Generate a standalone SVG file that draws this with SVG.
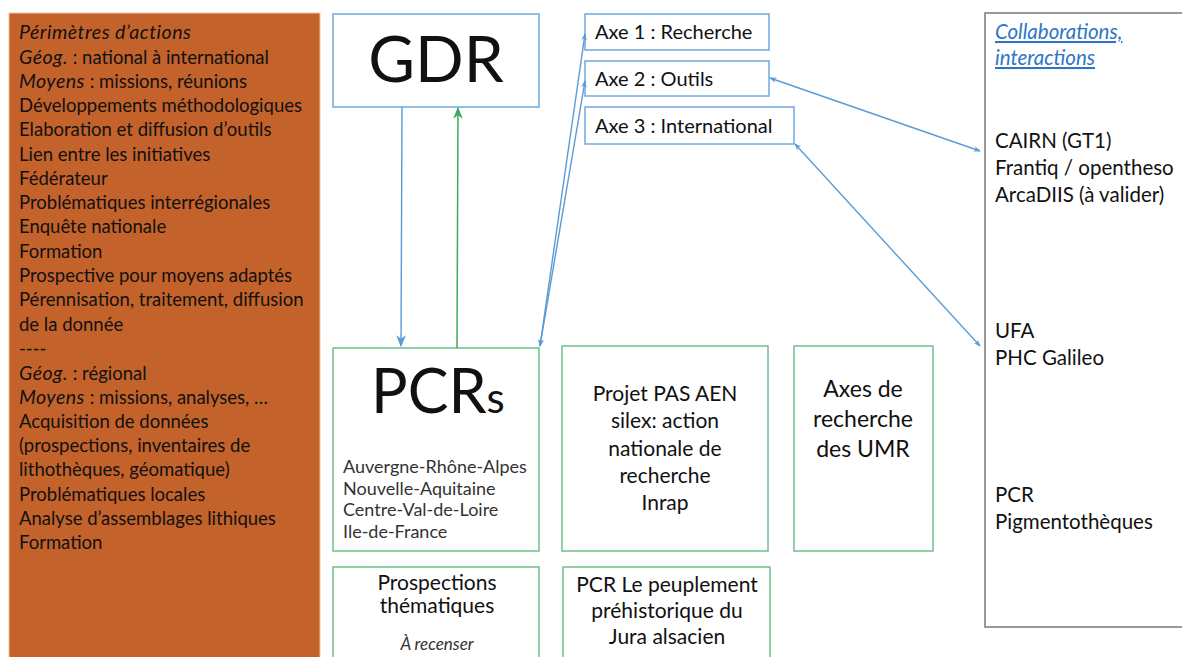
<svg xmlns="http://www.w3.org/2000/svg" width="1182" height="657" viewBox="0 0 1182 657">
<defs>
<style>
text{font-family:Lato,"Open Sans","Liberation Sans",sans-serif;fill:#111}
.lp{font-size:18.5px}
.it{font-style:italic}
.lp .it{font-size:19.5px;letter-spacing:0.5px}
.bbox{fill:#fff;stroke:#6FA8DC;stroke-width:1.5}
.gbox{fill:#fff;stroke:#6CC08B;stroke-width:1.5}
.axe{font-size:20px}
.mid{text-anchor:middle}
.big{font-size:21px}
.umr{font-size:23px}
.reg{font-size:18px;fill:#333}
.rp{font-size:20.5px}
.bl{stroke:#5B9BD5;stroke-width:1.4;fill:none}
.gr{stroke:#3DAA5C;stroke-width:1.5;fill:none}
</style>
<marker id="ab" viewBox="0 0 10 10" refX="9" refY="5" markerWidth="7" markerHeight="7" orient="auto-start-reverse" markerUnits="userSpaceOnUse">
<path d="M0,1 L10,5 L0,9 L3,5 z" fill="#5B9BD5"/>
</marker>
<marker id="ag" viewBox="0 0 10 10" refX="9" refY="5" markerWidth="12" markerHeight="12" orient="auto-start-reverse" markerUnits="userSpaceOnUse">
<path d="M0,1 L10,5 L0,9 L3,5 z" fill="#3DAA5C"/>
</marker>
<marker id="abig" viewBox="0 0 10 10" refX="9" refY="5" markerWidth="12" markerHeight="12" orient="auto-start-reverse" markerUnits="userSpaceOnUse">
<path d="M0,1 L10,5 L0,9 L3,5 z" fill="#5B9BD5"/>
</marker>
</defs>
<rect width="1182" height="657" fill="#fff"/>

<g id="perimetres">
<rect x="9" y="13" width="311" height="650" fill="#C4622B" stroke="#F2C4A6" stroke-width="1"/>
<text class="lp" x="19" y="39"><tspan class="it">Périmètres d’actions</tspan></text>
<text class="lp" x="19" y="64"><tspan class="it">Géog.</tspan> : national à international</text>
<text class="lp" x="19" y="88"><tspan class="it">Moyens</tspan> : missions, réunions</text>
<text class="lp" x="19" y="112">Développements méthodologiques</text>
<text class="lp" x="19" y="136">Elaboration et diffusion d’outils</text>
<text class="lp" x="19" y="161">Lien entre les initiatives</text>
<text class="lp" x="19" y="185">Fédérateur</text>
<text class="lp" x="19" y="209">Problématiques interrégionales</text>
<text class="lp" x="19" y="233">Enquête nationale</text>
<text class="lp" x="19" y="258">Formation</text>
<text class="lp" x="19" y="282">Prospective pour moyens adaptés</text>
<text class="lp" x="19" y="306">Pérennisation, traitement, diffusion</text>
<text class="lp" x="19" y="331">de la donnée</text>
<text class="lp" x="19" y="355">----</text>
<text class="lp" x="19" y="380"><tspan class="it">Géog.</tspan> : régional</text>
<text class="lp" x="19" y="404"><tspan class="it">Moyens</tspan> : missions, analyses, …</text>
<text class="lp" x="19" y="428">Acquisition de données</text>
<text class="lp" x="19" y="452">(prospections, inventaires de</text>
<text class="lp" x="19" y="476">lithothèques, géomatique)</text>
<text class="lp" x="19" y="501">Problématiques locales</text>
<text class="lp" x="19" y="525">Analyse d’assemblages lithiques</text>
<text class="lp" x="19" y="549">Formation</text>
</g>

<g id="gdr">
<rect class="bbox" x="333" y="14" width="206" height="93"/>
<text class="mid" x="436" y="82" font-size="64">GDR</text>
</g>

<g id="axe1">
<rect class="bbox" x="585" y="14" width="184" height="36"/>
<text class="axe" x="595" y="39">Axe 1 : Recherche</text>
</g>
<g id="axe2">
<rect class="bbox" x="585" y="61" width="184" height="35"/>
<text class="axe" x="595" y="86">Axe 2 : Outils</text>
</g>
<g id="axe3">
<rect class="bbox" x="585" y="107" width="209" height="37"/>
<text class="axe" x="595" y="133">Axe 3 : International</text>
</g>

<g id="pcrs">
<rect class="gbox" x="333" y="348" width="206" height="203"/>
<text x="371" y="413" font-size="61">PCR<tspan font-size="42">s</tspan></text>
<text class="reg" x="343" y="473">Auvergne-Rhône-Alpes</text>
<text class="reg" x="343" y="495">Nouvelle-Aquitaine</text>
<text class="reg" x="343" y="516">Centre-Val-de-Loire</text>
<text class="reg" x="343" y="538">Ile-de-France</text>
</g>

<g id="pas">
<rect class="gbox" x="562" y="346" width="206" height="205"/>
<text class="mid big" x="665" y="401">Projet PAS AEN</text>
<text class="mid big" x="665" y="428">silex: action</text>
<text class="mid big" x="665" y="456">nationale de</text>
<text class="mid big" x="665" y="483">recherche</text>
<text class="mid big" x="665" y="510">Inrap</text>
</g>

<g id="umr">
<rect class="gbox" x="794" y="346" width="139" height="205"/>
<text class="mid umr" x="863" y="397">Axes de</text>
<text class="mid umr" x="863" y="427">recherche</text>
<text class="mid umr" x="863" y="457">des UMR</text>
</g>

<g id="prospections">
<rect class="gbox" x="333" y="567" width="206" height="100"/>
<text class="mid big" x="437" y="590">Prospections</text>
<text class="mid big" x="437" y="613">thématiques</text>
<text class="mid it" x="437" y="650" font-size="17" style="fill:#333">À recenser</text>
</g>

<g id="jura">
<rect class="gbox" x="563" y="567" width="207" height="100"/>
<text class="mid big" x="667" y="592">PCR Le peuplement</text>
<text class="mid big" x="667" y="618">préhistorique du</text>
<text class="mid big" x="667" y="644">Jura alsacien</text>
</g>

<g id="collaborations">
<rect x="985" y="13" width="220" height="614" fill="#fff" stroke="#808080" stroke-width="1.6"/>
<text class="it" x="995" y="39" font-size="20.5" style="fill:#2E75C6" text-decoration="underline">Collaborations,</text>
<text class="it" x="995" y="65" font-size="20.5" style="fill:#2E75C6" text-decoration="underline">interactions</text>
<text class="rp" x="995" y="148">CAIRN (GT1)</text>
<text class="rp" x="995" y="175">Frantiq / opentheso</text>
<text class="rp" x="995" y="202">ArcaDIIS (à valider)</text>
<text class="rp" x="995" y="338">UFA</text>
<text class="rp" x="995" y="365">PHC Galileo</text>
<text class="rp" x="995" y="502">PCR</text>
<text class="rp" x="995" y="529">Pigmentothèques</text>
</g>

<g id="connectors">
<line class="bl" x1="402" y1="107" x2="401" y2="346" marker-end="url(#abig)"/>
<line class="gr" x1="457" y1="348" x2="458" y2="108" marker-end="url(#ag)"/>
<line class="bl" x1="540" y1="346" x2="585" y2="34" marker-start="url(#ab)" marker-end="url(#ab)"/>
<line class="bl" x1="540" y1="346" x2="585" y2="81" marker-start="url(#ab)" marker-end="url(#ab)"/>
<line class="bl" x1="770" y1="78" x2="980" y2="151" marker-start="url(#ab)" marker-end="url(#ab)"/>
<line class="bl" x1="795" y1="144" x2="980" y2="346" marker-start="url(#ab)" marker-end="url(#ab)"/>
</g>
</svg>
